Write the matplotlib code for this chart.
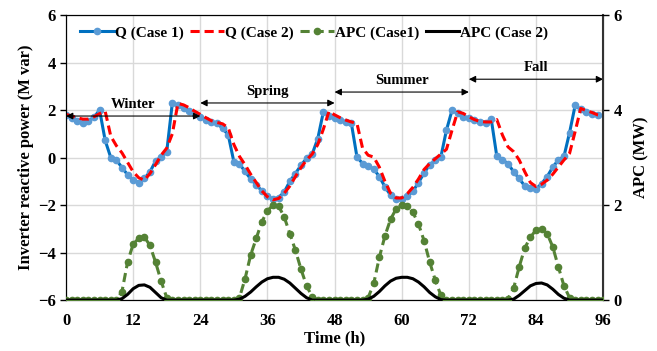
import numpy as np
import matplotlib
matplotlib.use("Agg")
import matplotlib.pyplot as plt

plt.rcParams['font.family'] = ['Liberation Serif', 'DejaVu Serif']
plt.rcParams['font.weight'] = 'bold'

# hourly values, 4 representative days (winter, spring, summer, fall)
q_case1 = (
    [1.78, 1.68, 1.55, 1.45, 1.55, 1.70, 2.00, 0.72, 0.00, -0.10, -0.42, -0.72,
     -0.95, -1.05, -0.88, -0.60, -0.15, 0.03, 0.25, 2.30, 2.20, 2.08, 1.95, 1.82]
    + [1.72, 1.60, 1.50, 1.44, 1.23, 0.95, -0.18, -0.27, -0.58, -0.90, -1.15, -1.40,
       -1.62, -1.75, -1.68, -1.45, -1.00, -0.67, -0.32, -0.03, 0.15, 0.80, 1.93, 1.75]
    + [1.68, 1.58, 1.50, 1.44, 0.03, -0.25, -0.36, -0.48, -0.80, -1.23, -1.58, -1.76,
       -1.74, -1.62, -1.42, -1.05, -0.65, -0.30, -0.12, 0.03, 1.16, 2.00, 1.86, 1.72]
    + [1.65, 1.58, 1.50, 1.45, 1.62, 0.05, -0.10, -0.25, -0.60, -0.88, -1.20, -1.30,
       -1.32, -1.10, -0.80, -0.40, -0.10, 0.05, 1.05, 2.20, 2.03, 1.90, 1.82, 1.78]
)

q_case2 = (
    [1.82, 1.75, 1.68, 1.62, 1.62, 1.72, 1.85, 1.95, 0.90, 0.50, 0.20, -0.20,
     -0.60, -0.85, -0.95, -0.67, -0.30, 0.10, 0.40, 1.00, 2.28, 2.22, 2.10, 1.95]
    + [1.82, 1.68, 1.55, 1.48, 1.42, 1.25, 0.55, 0.05, -0.30, -0.70, -1.05, -1.40,
       -1.65, -1.78, -1.72, -1.50, -1.20, -0.80, -0.42, -0.10, 0.15, 0.55, 1.20, 1.95]
    + [1.80, 1.68, 1.58, 1.50, 1.44, 0.40, 0.10, 0.02, -0.40, -1.00, -1.50, -1.70,
       -1.70, -1.52, -1.25, -0.90, -0.50, -0.25, -0.05, 0.15, 0.35, 1.16, 1.93, 1.86]
    + [1.72, 1.60, 1.52, 1.50, 1.50, 1.60, 0.95, 0.45, 0.25, -0.10, -0.60, -1.05,
       -1.22, -1.12, -0.95, -0.70, -0.40, -0.10, 0.18, 1.10, 2.07, 1.98, 1.90, 1.80]
    + [1.75]
)

apc_case1 = (
    [0] * 10 + [0.18, 0.80, 1.18, 1.30, 1.33, 1.15, 0.80, 0.40, 0.05] + [0] * 5
    + [0] * 7 + [0.05, 0.45, 0.95, 1.30, 1.65, 1.88, 2.00, 1.98, 1.75, 1.40, 1.05,
                 0.65, 0.30, 0.07] + [0] * 3
    + [0] * 6 + [0.05, 0.35, 0.90, 1.35, 1.70, 1.92, 2.00, 1.98, 1.85, 1.60, 1.25,
                 0.80, 0.42, 0.10] + [0] * 4
    + [0] * 7 + [0.03, 0.25, 0.70, 1.10, 1.32, 1.48, 1.50, 1.40, 1.12, 0.70, 0.30,
                 0.05] + [0] * 5
    + [0]
)

apc_case2 = (
    [0] * 10 + [0.03, 0.12, 0.24, 0.31, 0.32, 0.27, 0.16, 0.05] + [0] * 6
    + [0] * 7 + [0.02, 0.08, 0.17, 0.28, 0.38, 0.45, 0.48, 0.48, 0.44, 0.36, 0.25,
                 0.14, 0.05] + [0] * 4
    + [0] * 6 + [0.02, 0.08, 0.18, 0.30, 0.40, 0.46, 0.48, 0.48, 0.45, 0.38, 0.28,
                 0.16, 0.07, 0.01] + [0] * 4
    + [0] * 8 + [0.02, 0.10, 0.20, 0.30, 0.35, 0.36, 0.32, 0.23, 0.12, 0.04] + [0] * 6
    + [0]
)

seasons = ['Winter', 'Spring', 'Summer', 'Fall']
season_start = [0, 24, 48, 72]
arrow_y = [1.75, 2.3, 2.76, 3.3]

fig = plt.figure(figsize=(6.57, 3.51), dpi=100)
ax = fig.add_axes([0.1005, 0.145, 0.8175, 0.812])
ax2 = ax.twinx()

ax.set_xlim(0, 96)
ax.set_ylim(-6, 6)
ax2.set_ylim(0, 6)
ax.set_xticks(range(0, 97, 12))
ax.set_yticks(range(-6, 7, 2))
ax2.set_yticks(range(0, 7, 2))
ax.grid(True, color='#d9d9d9', lw=1)
ax.set_axisbelow(True)

h1 = np.arange(len(q_case1))
h2 = np.arange(len(q_case2))
ha = np.arange(len(apc_case1))
hb = np.arange(len(apc_case2))

l1, = ax.plot(h1, q_case1, color='#0070C0', lw=2.2, marker='o', ms=4.5,
              mfc='#5B9BD5', mec='#5B9BD5', label='Q (Case 1)', zorder=4)
l2, = ax.plot(h2, q_case2, color='#FF0000', lw=2.2, ls=(0, (3, 1.6)),
              label='Q (Case 2)', zorder=5)
l3, = ax2.plot(ha, apc_case1, color='#548235', lw=2.2, ls=(0, (3, 1.6)), marker='o',
               ms=4.5, label='APC (Case1)', zorder=3)
l4, = ax2.plot(hb, apc_case2, color='black', lw=2.2, label='APC (Case 2)', zorder=4)

for name, s, yv in zip(seasons, season_start, arrow_y):
    ax.annotate('', xy=(s, yv), xytext=(s + 24, yv),
                arrowprops=dict(arrowstyle='<|-|>', color='black', lw=0.8,
                                mutation_scale=10, shrinkA=0, shrinkB=0), zorder=6)
    ax.text(s + 12, yv + 0.5, name, ha='center', va='center', fontsize=10.5,
            fontweight='bold', zorder=6)

ax.legend(handles=[l1, l2, l3, l4], loc='center', bbox_to_anchor=(0.462, 0.937),
          ncol=4, frameon=False, fontsize=11, handlelength=2.2, columnspacing=0.45,
          handletextpad=0.05, borderpad=0.2)

ax.set_xlabel('Time (h)', fontsize=12, fontweight='bold', labelpad=1)
ax.set_ylabel('Inverter reactive power (M var)', fontsize=12, fontweight='bold', labelpad=3)
ax2.set_ylabel('APC (MW)', fontsize=12, fontweight='bold', labelpad=8)

for a in (ax, ax2):
    a.tick_params(labelsize=12, direction='out', length=4, width=1)
    for lab in a.get_xticklabels() + a.get_yticklabels():
        lab.set_fontweight('bold')
ax.tick_params(axis='x', length=0, pad=9)
ax2.spines['right'].set_linewidth(1.5)
ax2.spines['right'].set_color('#333333')
ax.spines['top'].set_color('black')

fig.savefig('out.png', dpi=100)
